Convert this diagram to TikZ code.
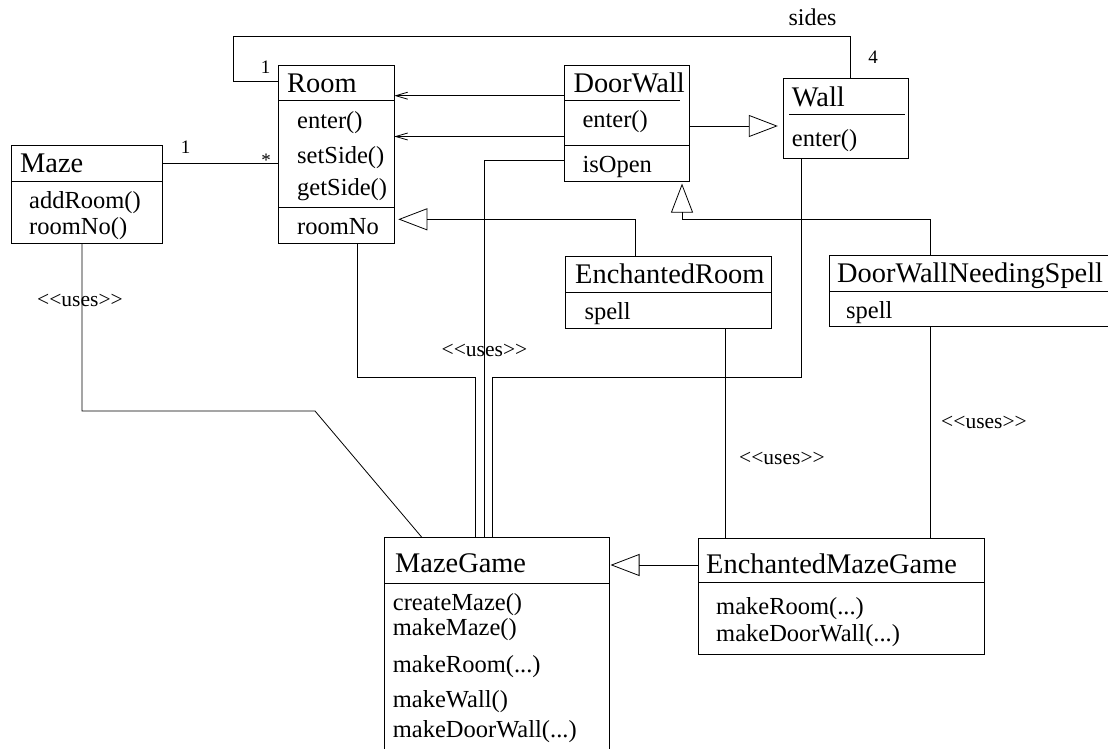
\documentclass[tikz,border=0pt]{standalone}
\usepackage{fontspec}
\setmainfont{Liberation Serif}[Ligatures=TeXOff]
\usetikzlibrary{arrows.meta}

\tikzset{
  classbox/.style={draw, line width=0.9pt, inner sep=0pt, outer sep=0pt, anchor=north west},
  sepline/.style={line width=0.9pt},
  title/.style={anchor=base west, inner sep=0pt, font=\fontsize{28.4}{30}\selectfont},
  member/.style={anchor=base west, inner sep=0pt, font=\fontsize{24.5}{26}\selectfont},
  stereo/.style={anchor=base, inner sep=0pt, font=\fontsize{21.5}{23}\selectfont},
  mult/.style={anchor=base, inner sep=0pt, font=\fontsize{19}{20}\selectfont},
  rolename/.style={anchor=base, inner sep=0pt, font=\fontsize{24}{26}\selectfont},
  link/.style={draw, line width=0.8pt},
  nav/.style={link, -{Straight Barb[length=12pt,width=7pt]}},
  inherit/.style={link, -{Triangle[open,length=29pt,width=22pt]}},
}

\begin{document}
\begin{tikzpicture}[x=1pt, y=-1pt]
\useasboundingbox (0,0) rectangle (1108,749);
\fill[white] (0,0) rectangle (1108,749);
\clip (0,0) rectangle (1108,749);

% ---------- classes ----------
% Room
\node[classbox, minimum width=116pt, minimum height=178.3pt] (room) at (278.3,65) {};
\draw[sepline] (room.west |- 0,100) -- (room.east |- 0,100);
\draw[sepline] (room.west |- 0,207.7) -- (room.east |- 0,207.7);
\node[title]  (roomT)  at (287,92.3)  {Room};
\node[member] (roomM1) at (297,128.3) {enter()};
\node[member] (roomM2) at (297,163.3) {setSide()};
\node[member] (roomM3) at (297,195)   {getSide()};
\node[member] (roomA1) at (297,234.3) {roomNo};

% Maze
\node[classbox, minimum width=151.7pt, minimum height=97.6pt] (maze) at (11,145.7) {};
\draw[sepline] (maze.west |- 0,181.7) -- (maze.east |- 0,181.7);
\node[title]  (mazeT)  at (20,172.3) {Maze};
\node[member] (mazeM1) at (29,208.3) {addRoom()};
\node[member] (mazeM2) at (29,234.8) {roomNo()};

% DoorWall
\node[classbox, minimum width=125pt, minimum height=116pt] (dw) at (564.3,65) {};
\draw[sepline] (dw.west |- 0,100) -- (680,100);
\draw[sepline] (dw.west |- 0,145) -- (dw.east |- 0,145);
\node[title]  (dwT)  at (573.3,92.3)  {DoorWall};
\node[member] (dwM1) at (582.3,127.7) {enter()};
\node[member] (dwA1) at (582.3,172)   {isOpen};

% Wall
\node[classbox, minimum width=125pt, minimum height=80pt] (wall) at (783.3,78.3) {};
\draw[sepline] (789.3,114) -- (905,114);
\node[title]  (wallT)  at (791.7,106.7) {Wall};
\node[member] (wallM1) at (791.7,146.7) {enter()};

% EnchantedRoom
\node[classbox, minimum width=206pt, minimum height=71.6pt] (er) at (565.7,256.7) {};
\draw[sepline] (er.west |- 0,292.7) -- (er.east |- 0,292.7);
\node[title]  (erT)  at (575,283.3)  {EnchantedRoom};
\node[member] (erA1) at (584.3,319)  {spell};

% DoorWallNeedingSpell
\node[classbox, minimum width=300pt, minimum height=71.2pt] (dwns) at (829,255.5) {};
\draw[sepline] (dwns.west |- 0,291.5) -- (dwns.east |- 0,291.5);
\node[title]  (dwnsT)  at (837,282.5) {DoorWallNeedingSpell};
\node[member] (dwnsA1) at (846,318.5) {spell};

% MazeGame
\node[classbox, minimum width=224.5pt, minimum height=230pt] (mg) at (384.5,537.5) {};
\draw[sepline] (mg.west |- 0,583) -- (mg.east |- 0,583);
\node[title]  (mgT)  at (395,572)   {MazeGame};
\node[member] (mgM1) at (392.7,610) {createMaze()};
\node[member] (mgM2) at (392.7,635) {makeMaze()};
\node[member] (mgM3) at (392.7,672) {makeRoom(...)};
\node[member] (mgM4) at (392.7,707) {makeWall()};
\node[member] (mgM5) at (392.7,737) {makeDoorWall(...)};

% EnchantedMazeGame
\node[classbox, minimum width=286.3pt, minimum height=116pt] (emg) at (698,538.3) {};
\draw[sepline] (emg.west |- 0,582.7) -- (emg.east |- 0,582.7);
\node[title]  (emgT)  at (706,573.3) {EnchantedMazeGame};
\node[member] (emgM1) at (716,614)   {makeRoom(...)};
\node[member] (emgM2) at (716,641.5) {makeDoorWall(...)};

% ---------- associations ----------
\draw[link] (maze.east |- 0,163.3) -- (room.west |- 0,163.3);
\node[mult] (mazeOne)  at (185.7,153.3) {1};
\node[mult] (roomMany) at (266,166.5)   {*};

\draw[link] (room.west |- 0,81.7) -- (233.3,81.7) |- (850,36) -- (wall.north -| 850,0);
\node[mult]     (roomOne)  at (265.5,74) {1};
\node[mult]     (wallFour) at (873,64)   {4};
\node[rolename] (sidesL)   at (812.5,26) {sides};

% navigable links from DoorWall to Room
\draw[nav] (dw.west |- 0,95.7)  -- (room.east |- 0,95.7);
\draw[nav] (dw.west |- 0,136.5) -- (room.east |- 0,136.5);

% ---------- generalisations ----------
\draw[inherit, shorten >=5.5pt] (dw.east |- 0,126) -- (wall.west |- 0,126);
\draw[inherit, shorten >=4pt] (er.north -| 635.7,0) |- (room.east |- 0,219.3);
\draw[inherit, shorten >=2.6pt] (dwns.north -| 930.5,0) |- (682,219.3) -- (dw.south -| 682,0);
\draw[inherit, shorten >=1.5pt] (emg.west |- 0,565) -- (mg.east |- 0,565);

% ---------- uses dependencies ----------
\draw[link] (maze.south -| 82,0) -- (82,411) -- (315,411) -- (mg.north -| 422,0);
\draw[link] (room.south -| 357.3,0) |- (475,377) -- (mg.north -| 475,0);
\draw[link] (dw.west |- 0,160) -| (mg.north -| 484,0);
\draw[link] (wall.south -| 801,0) |- (492.5,377) -- (mg.north -| 492.5,0);
\draw[link] (er.south -| 725.7,0) -- (emg.north -| 725.7,0);
\draw[link] (dwns.south -| 930,0) -- (emg.north -| 930,0);

\node[stereo] (uses1) at (80,306)      {<<uses>>};
\node[stereo] (uses2) at (484.5,356.7) {<<uses>>};
\node[stereo] (uses3) at (782,464)     {<<uses>>};
\node[stereo] (uses4) at (984,428)     {<<uses>>};
\end{tikzpicture}
\end{document}
